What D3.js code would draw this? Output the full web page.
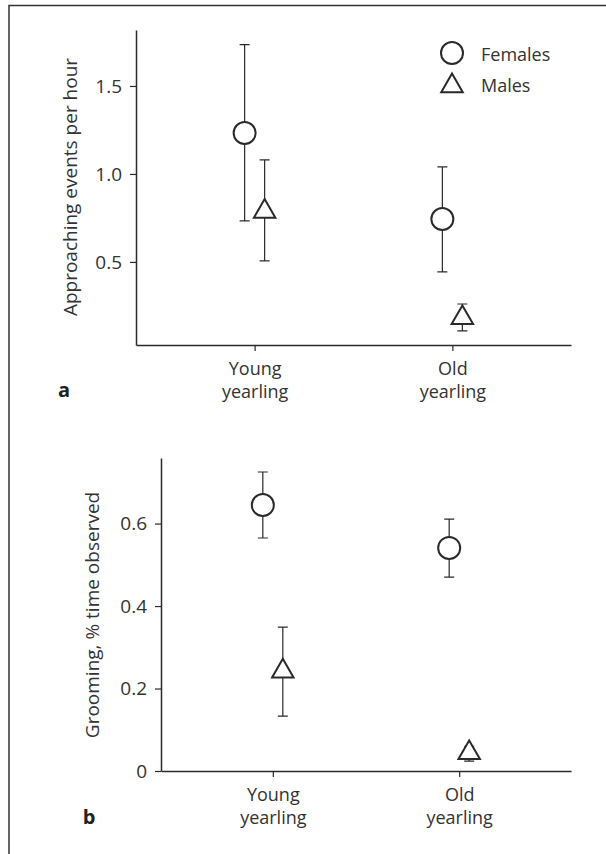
<!DOCTYPE html>
<html>
<head>
<meta charset="utf-8">
<script src="https://cdn.jsdelivr.net/npm/d3@7"></script>
<style>
  body { margin: 0; background: #fff; }
  svg { display: block; }
</style>
</head>
<body>
<div id="chart"></div>
<script>
// categories on the x axis
var categories = ["Young yearling", "Old yearling"];

// panel a: approaching events per hour
var approachFemale = [1.233, 0.744];
var approachFemaleLo = [0.733, 0.443];
var approachFemaleHi = [1.735, 1.04];
var approachMale = [0.787, 0.182];
var approachMaleLo = [0.506, 0.108];
var approachMaleHi = [1.08, 0.261];
var approachTicks = [0.5, 1.0, 1.5];

// panel b: grooming, % time observed
var groomFemale = [0.645, 0.541];
var groomFemaleLo = [0.565, 0.470];
var groomFemaleHi = [0.725, 0.611];
var groomMale = [0.242, 0.044];
var groomMaleLo = [0.133, 0.024];
var groomMaleHi = [0.349, 0.06];
var groomTicks = [0, 0.2, 0.4, 0.6];

var legendLabels = ["Females", "Males"];

var font = "'Open Sans', 'Noto Sans', sans-serif";
var ink = "#2a2a2a";

var svg = d3.select("#chart")
  .append("svg")
  .attr("width", 606)
  .attr("height", 854)
  .attr("font-family", font);

// figure frame (top and left edges)
svg.append("path")
  .attr("d", "M9,854V5.5H606")
  .attr("fill", "none")
  .attr("stroke", "#333")
  .attr("stroke-width", 1.5);

var triangle = d3.symbol().type(d3.symbolTriangle).size(200);

function drawPanel(opt) {
  var g = svg.append("g");

  var x = d3.scalePoint()
    .domain(categories)
    .range([opt.left, opt.right])
    .padding(0.6);

  var y = d3.scaleLinear()
    .domain(opt.domain)
    .range([opt.bottom, opt.top]);

  // y axis
  var yAxis = g.append("g")
    .attr("transform", `translate(${opt.left},0)`)
    .call(d3.axisLeft(y)
      .tickValues(opt.ticks)
      .tickFormat(opt.format)
      .tickSize(6)
      .tickSizeOuter(0)
      .tickPadding(8));
  yAxis.attr("font-family", font).attr("font-size", 19);
  yAxis.select(".domain").attr("stroke", ink).attr("stroke-width", 1.5);
  yAxis.selectAll(".tick line").attr("stroke", ink).attr("stroke-width", 1.2);
  yAxis.selectAll(".tick text").attr("fill", "#333");

  // x axis
  var xAxis = g.append("g")
    .attr("transform", `translate(0,${opt.bottom})`)
    .call(d3.axisBottom(x)
      .tickSize(6)
      .tickSizeOuter(0)
      .tickFormat(""));
  xAxis.attr("font-family", font).attr("font-size", 18);
  xAxis.select(".domain").attr("stroke", ink).attr("stroke-width", 1.5);
  xAxis.selectAll(".tick line").attr("stroke", ink).attr("stroke-width", 1.2);
  xAxis.selectAll(".tick text").remove();
  xAxis.selectAll(".tick").each(function(d) {
    var words = d.split(" ");
    var t = d3.select(this).append("text")
      .attr("fill", "#333")
      .attr("text-anchor", "middle")
      .attr("y", 30);
    t.append("tspan").attr("x", 0).text(words[0]);
    t.append("tspan").attr("x", 0).attr("dy", 23).text(words.slice(1).join(" "));
  });

  // y title
  g.append("text")
    .attr("transform", `translate(${opt.titleX},${opt.titleY}) rotate(-90)`)
    .attr("text-anchor", "middle")
    .attr("font-size", 19)
    .attr("fill", "#333")
    .text(opt.title);

  // panel letter
  g.append("text")
    .attr("x", opt.letterX)
    .attr("y", opt.letterY)
    .attr("text-anchor", "middle")
    .attr("font-size", 20)
    .attr("font-weight", "bold")
    .attr("fill", "#222")
    .text(opt.letter);

  var series = [
    { mean: opt.female, lo: opt.femaleLo, hi: opt.femaleHi, shift: -10, shape: "circle" },
    { mean: opt.male, lo: opt.maleLo, hi: opt.maleHi, shift: 10, shape: "triangle" }
  ];

  series.forEach(function(s) {
    var pts = categories.map(function(c, i) {
      return { cx: x(c) + s.shift, mean: s.mean[i], lo: s.lo[i], hi: s.hi[i] };
    });

    var bars = g.append("g")
      .attr("stroke", ink)
      .attr("stroke-width", 1.2)
      .attr("fill", "none");

    bars.selectAll("path")
      .data(pts)
      .enter()
      .append("path")
      .attr("d", d => `M${d.cx},${y(d.lo)}V${y(d.hi)}` +
        `M${d.cx - 5},${y(d.hi)}H${d.cx + 5}` +
        `M${d.cx - 5},${y(d.lo)}H${d.cx + 5}`);

    var marks = g.append("g")
      .attr("stroke", ink)
      .attr("stroke-width", 2)
      .attr("fill", "#fff");

    if (s.shape === "circle") {
      marks.selectAll("circle")
        .data(pts)
        .enter()
        .append("circle")
        .attr("cx", d => d.cx)
        .attr("cy", d => y(d.mean))
        .attr("r", 11);
    } else {
      marks.selectAll("path")
        .data(pts)
        .enter()
        .append("path")
        .attr("d", triangle)
        .attr("transform", d => `translate(${d.cx},${y(d.mean)})`);
    }
  });

  return g;
}

var panelA = drawPanel({
  left: 136, right: 571, top: 30, bottom: 345,
  domain: [0.028, 1.818],
  ticks: approachTicks,
  format: d3.format(".1f"),
  title: "Approaching events per hour",
  titleX: 77, titleY: 187,
  letter: "a", letterX: 64, letterY: 397,
  female: approachFemale, femaleLo: approachFemaleLo, femaleHi: approachFemaleHi,
  male: approachMale, maleLo: approachMaleLo, maleHi: approachMaleHi
});

drawPanel({
  left: 161, right: 571, top: 458, bottom: 771,
  domain: [0, 0.759],
  ticks: groomTicks,
  format: d => d === 0 ? "0" : d3.format(".1f")(d),
  title: "Grooming, % time observed",
  titleX: 99, titleY: 615,
  letter: "b", letterX: 89, letterY: 824,
  female: groomFemale, femaleLo: groomFemaleLo, femaleHi: groomFemaleHi,
  male: groomMale, maleLo: groomMaleLo, maleHi: groomMaleHi
});

// legend in panel a
var legend = panelA.append("g");
legend.append("circle")
  .attr("cx", 452).attr("cy", 53).attr("r", 11)
  .attr("fill", "#fff").attr("stroke", ink).attr("stroke-width", 2);
legend.append("path")
  .attr("d", triangle)
  .attr("transform", "translate(452,86)")
  .attr("fill", "#fff").attr("stroke", ink).attr("stroke-width", 2);
legend.selectAll("text")
  .data(legendLabels)
  .enter()
  .append("text")
  .attr("x", 481)
  .attr("y", (d, i) => i === 0 ? 61 : 92)
  .attr("font-size", 18)
  .attr("fill", "#333")
  .text(d => d);
</script>
</body>
</html>
